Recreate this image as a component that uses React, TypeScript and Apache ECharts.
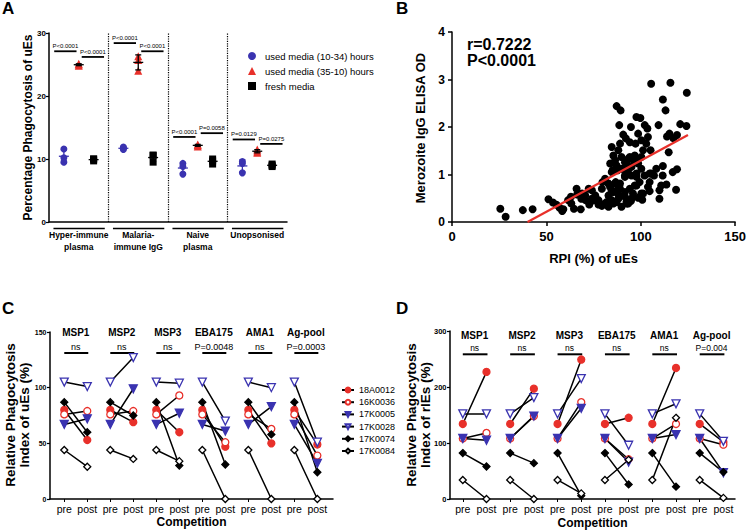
import React, { useEffect, useRef } from 'react';
import * as echarts from 'echarts';

const FONT = 'Liberation Sans, Arial, Helvetica, sans-serif';
const RED = '#e8302a';
const BLUE = '#3a33b0';
const BLACK = '#000';

// ---------- Panel A ----------
const A_GROUPS = ['Hyper-immune\nplasma', 'Malaria-\nimmune IgG', 'Naive\nplasma', 'Unopsonised'];
const A_SERIES = ['used media (10-34) hours', 'used media (35-10) hours', 'fresh media'];
const A_BLUE = [[11.6, 10.2, 9.5], [11.9, 11.7, 11.5], [9.3, 8.8, 7.6], [9.6, 9.3, 7.8]];
const A_RED = [[24.8, 25.0, 25.1], [26.3, 25.7, 24.0], [12.2, 12.3, 12.0], [11.5, 11.0, 11.2]];
const A_BLACK = [[9.7, 10.0, 10.0], [10.6, 10.6, 9.5], [10.0, 9.7, 9.2], [9.2, 9.0, 8.8]];
const A_SIG_LEFT_LABELS = ['P<0.0001', 'P<0.0001', 'P<0.0001', 'P=0.0129'];
const A_SIG_LEFT_Y = [27.1, 28.4, 13.5, 13.1];
const A_SIG_RIGHT_LABELS = ['P<0.0001', 'P<0.0001', 'P=0.0058', 'P=0.0275'];
const A_SIG_RIGHT_Y = [26.2, 27.1, 14.1, 12.4];
const A_YTITLE = 'Percentage Phagocytosis of uEs';

// ---------- Panel B ----------
const B_POINTS: number[][] = [
  [25.6, 0.28], [28.4, 0.11], [37.5, 0.25], [42.7, 0.27], [51.1, 0.48], [53.5, 0.41], [55.5, 0.36], [57, 0.3],
  [58.4, 0.23], [59, 0.27], [61.5, 0.46], [63, 0.53], [63.2, 0.39], [64.6, 0.28], [66, 0.7], [66.3, 0.58],
  [68.2, 0.27], [68.9, 0.6], [68.5, 0.49], [70.7, 0.46], [70.6, 0.56], [72.4, 0.7], [72.7, 0.37], [73.3, 0.42],
  [74.1, 0.67], [74.1, 0.49], [75.9, 0.56], [75.9, 0.46], [77.6, 0.46], [77.6, 0.37], [79.4, 0.7], [79.4, 0.34],
  [79.7, 0.84], [81.1, 0.91], [81.1, 0.39], [82, 0.42], [82.9, 0.81], [82.9, 0.32], [82.9, 0.56], [83.7, 0.74],
  [84.6, 0.67], [84.6, 0.46], [85.5, 0.39], [85.5, 0.63], [86.4, 0.81], [86.7, 0.84], [87.2, 0.42], [88.1, 0.7],
  [88.1, 0.49], [88.4, 0.56], [89, 0.7], [89, 0.81], [89.8, 0.32], [91.6, 0.63], [91.6, 0.53], [92.4, 0.42],
  [92.5, 0.39], [93.3, 0.39], [94.2, 0.7], [94.8, 0.44], [95, 0.49], [95.9, 0.6], [96.8, 0.77], [97.7, 0.77],
  [97.7, 0.95], [98.6, 0.51], [99.4, 0.84], [100.3, 0.6], [100.8, 0.47], [101.2, 0.6], [102, 0.98], [103.8, 0.74],
  [104.7, 0.65], [104.7, 0.84], [105.5, 1.02], [107, 0.98], [108.2, 1.12], [109.9, 0.67], [109.9, 0.49], [110.8, 0.77],
  [111.6, 0.98], [111.7, 1.18], [113.6, 0.79], [116.9, 1.05], [118.7, 0.68], [119.2, 1.11],
  [83.8, 1.23], [84.6, 1.05], [84.6, 1.58], [85.1, 1.09], [85.5, 1.4], [86.4, 1.3], [87.2, 1.19], [87.2, 2.44],
  [87.8, 1.09], [88.1, 1.51], [88.6, 2.04], [89, 1.65], [89.3, 2.35], [89.8, 1.12], [89.8, 1.37], [90.7, 1.12],
  [90.7, 1.84], [91.6, 0.95], [91.6, 0.98], [91.6, 1.26], [92.1, 1.76], [92.4, 1.23], [93.3, 1.09], [93.4, 1.33],
  [94.2, 1.37], [94.2, 1.68], [94.8, 2.0], [95.1, 1.16], [95.1, 0.98], [96, 1.3], [96.8, 1.4], [96.8, 1.37],
  [97.2, 1.65], [97.7, 1.02], [97.7, 2.21], [98.2, 1.25], [98.6, 1.86], [98.6, 1.23], [99.8, 2.19], [100.3, 1.72],
  [100.3, 1.12], [100.3, 1.37], [101.2, 1.51], [102.1, 2.04], [102.9, 1.65], [103.5, 1.97], [103.8, 1.79], [104.7, 1.02],
  [105.2, 1.51], [105.5, 2.91], [109.4, 2.04], [111.7, 2.58], [113.1, 2.35], [113.9, 1.8], [114.8, 1.47], [115.2, 1.86],
  [115.7, 2.93], [117.4, 1.76], [119.2, 1.83], [120.9, 2.06], [124.2, 2.02], [124.4, 2.72],
];
const B_FIT_SLOPE = 0.02153;
const B_FIT_INTERCEPT = -0.861;
const B_FIT_RANGE = [40, 125];
const B_STATS = ['r=0.7222', 'P<0.0001'];
const B_YTITLE = 'Merozoite IgG ELISA OD';

// ---------- Panels C & D ----------
const SUBJECTS = ['18A0012', '16K0036', '17K0005', '17K0028', '17K0074', '17K0084'];
const ANTIGENS = ['MSP1', 'MSP2', 'MSP3', 'EBA175', 'AMA1', 'Ag-pool'];
const PHASES = ['pre', 'post'];
const C_PRE = [80, 76, 67, 105, 87, 44];
const C_POST = [
  [53, 69, 60, 47, 50, 49],
  [79, 79, 93, 51, 63, 39],
  [72, 99, 77, 61, 83, 32],
  [101, 127, 104, 70, 100, 51],
  [60, 75, 30, 31, 58, 24],
  [29, 36, 34, 0, 0, 0],
];
const C_SIG = ['ns', 'ns', 'ns', 'P=0.0048', 'ns', 'P=0.0003'];
const C_YTITLE = 'Relative Phagocytosis\nIndex of uEs (%)';
const D_PRE = [134, 108, 108, 152, 82, 34];
const D_POST = [
  [227, 197, 249, 145, 234, 102],
  [118, 148, 173, 71, 134, 97],
  [105, 148, 162, 66, 115, 47],
  [152, 181, 215, 96, 170, 103],
  [58, 64, 6, 26, 22, 48],
  [0, 0, 10, 70, 145, 2],
];
const D_SIG = ['ns', 'ns', 'ns', 'ns', 'ns', 'P=0.004'];
const D_YTITLE = 'Relative Phagocytosis\nIndex of rIEs (%)';

const TRI_DOWN = 'path://M0,0L10,0L5,9Z';
const SUBJ_STYLE = [
  { symbol: 'circle', fill: RED, border: RED, size: 7 },
  { symbol: 'circle', fill: '#fff', border: RED, size: 7 },
  { symbol: TRI_DOWN, fill: BLUE, border: BLUE, size: 8 },
  { symbol: TRI_DOWN, fill: '#fff', border: BLUE, size: 8 },
  { symbol: 'diamond', fill: BLACK, border: BLACK, size: 7 },
  { symbol: 'diamond', fill: '#fff', border: BLACK, size: 7 },
];

const mean = (a: number[]) => a.reduce((s, v) => s + v, 0) / a.length;
const sd = (a: number[]) => {
  const m = mean(a);
  return Math.sqrt(a.reduce((s, v) => s + (v - m) * (v - m), 0) / (a.length - 1));
};

const axisLineStyle = { onZero: false, lineStyle: { color: BLACK, width: 1.5 } };

function buildPairs(pre: number, post: number[]) {
  const out: any[] = [];
  post.forEach((v, i) => {
    out.push([2 * i, pre]);
    out.push([2 * i + 1, v]);
    out.push([2 * i + 1.5, '-']);
  });
  return out;
}

function pairSeries(xi: number, pre: number[], post: number[][]) {
  return SUBJECTS.map((name, k) => ({
    type: 'line',
    name,
    xAxisIndex: xi,
    yAxisIndex: xi,
    data: buildPairs(pre[k], post[k]),
    symbol: SUBJ_STYLE[k].symbol,
    symbolSize: SUBJ_STYLE[k].size,
    itemStyle: { color: SUBJ_STYLE[k].fill, borderColor: SUBJ_STYLE[k].border, borderWidth: 1.3, opacity: 1 },
    lineStyle: { color: BLACK, width: 1.5 },
    connectNulls: false,
    clip: false,
    z: 3,
  }));
}

function headerSeries(xi: number, ymax: number, sig: string[], offs: number[], sigFont: number) {
  return {
    type: 'custom',
    xAxisIndex: xi,
    yAxisIndex: xi,
    clip: false,
    silent: true,
    data: ANTIGENS.map((_, i) => [2 * i, 2 * i + 1]),
    renderItem: (params: any, api: any) => {
      const i = params.dataIndex;
      const p0 = api.coord([api.value(0), ymax]);
      const p1 = api.coord([api.value(1), ymax]);
      const top = p0[1];
      const cx = (p0[0] + p1[0]) / 2;
      return {
        type: 'group',
        children: [
          {
            type: 'text',
            style: {
              text: ANTIGENS[i], x: cx, y: top + offs[0], align: 'center', verticalAlign: 'middle',
              fontSize: 10, fontWeight: 'bold', fontFamily: FONT, fill: BLACK,
            },
          },
          {
            type: 'text',
            style: {
              text: sig[i], x: cx, y: top + offs[1], align: 'center', verticalAlign: 'middle',
              fontSize: sigFont, fontFamily: FONT, fill: BLACK,
            },
          },
          {
            type: 'line',
            shape: { x1: p0[0], y1: top + offs[2], x2: p1[0] + 1, y2: top + offs[2] },
            style: { stroke: BLACK, lineWidth: 2 },
          },
        ],
      };
    },
  };
}

function pairXAxis(gi: number, min: number, max: number, gap: number) {
  const vals = [0, 1, 2, 3, 4, 5, 6, 7, 8, 9, 10, 11];
  return {
    type: 'value',
    gridIndex: gi,
    min,
    max,
    name: 'Competition',
    nameLocation: 'middle',
    nameGap: gap,
    nameTextStyle: { fontSize: 12, fontWeight: 'bold', fontFamily: FONT, color: BLACK },
    axisLine: axisLineStyle,
    axisTick: { customValues: vals, length: 3, lineStyle: { color: BLACK, width: 1 } },
    axisLabel: {
      customValues: vals,
      formatter: (v: number) => PHASES[Math.round(v) % 2],
      fontSize: 10.5,
      fontFamily: FONT,
      color: BLACK,
      margin: 4,
    },
    splitLine: { show: false },
  };
}

function pairYAxis(gi: number, max: number, interval: number, fs: number) {
  return {
    type: 'value',
    gridIndex: gi,
    min: 0,
    max,
    interval,
    axisLine: { show: true, ...axisLineStyle },
    axisTick: { show: true, length: 3, lineStyle: { color: BLACK, width: 1.2 } },
    axisLabel: { fontSize: fs, fontWeight: 'bold', fontFamily: FONT, color: BLACK, margin: 3.5 },
    splitLine: { show: false },
  };
}

function vTitle(text: string, x: number, y: number, fontSize: number, lineHeight?: number) {
  return {
    type: 'text',
    x,
    y,
    rotation: Math.PI / 2,
    silent: true,
    style: {
      text, x: 0, y: 0, align: 'center', verticalAlign: 'middle',
      fontSize, lineHeight: lineHeight || fontSize * 1.2, fontWeight: 'bold', fontFamily: FONT, fill: BLACK,
    },
  };
}

function buildOption(): any {
  const aScatter = (name: string, vals: number[][], s: number, symbol: string, size: number, color: string) => ({
    type: 'scatter',
    name,
    xAxisIndex: 0,
    yAxisIndex: 0,
    symbol,
    symbolSize: size,
    itemStyle: { color, opacity: 1 },
    data: vals.flatMap((grp, g) => grp.map((v) => [4 * g + 1 + s, v])),
    z: 3,
  });

  const aAll = [A_BLUE, A_RED, A_BLACK];
  const errData: number[][] = [];
  aAll.forEach((arr, s) => arr.forEach((grp, g) => errData.push([4 * g + 1 + s, mean(grp), sd(grp), s])));

  const sigData: number[][] = [];
  A_SIG_LEFT_Y.forEach((y, g) => sigData.push([g, 0, y]));
  A_SIG_RIGHT_Y.forEach((y, g) => sigData.push([g, 1, y]));

  const blueSeries: any = aScatter(A_SERIES[0], A_BLUE, 0, 'circle', 7, BLUE);
  blueSeries.markLine = {
    silent: true,
    symbol: ['none', 'none'],
    label: { show: false },
    lineStyle: { type: 'dotted', color: BLACK, width: 1.2 },
    data: [{ xAxis: 4 }, { xAxis: 8 }, { xAxis: 12 }],
  };

  return {
    animation: false,
    backgroundColor: '#fff',
    textStyle: { fontFamily: FONT },
    grid: [
      { left: 49, top: 33, width: 238, height: 189 },
      { left: 452, top: 32, width: 286, height: 190 },
      { left: 50, top: 332, width: 283, height: 167 },
      { left: 450, top: 331, width: 285, height: 168 },
    ],
    legend: [
      {
        data: A_SERIES,
        orient: 'vertical',
        left: 243,
        top: 46,
        itemWidth: 8,
        itemHeight: 8,
        itemGap: 5,
        textStyle: { fontSize: 9.5, lineHeight: 8, fontFamily: FONT, color: BLACK, padding: [0, 0, 0, 4] },
        selectedMode: false,
      },
      {
        data: SUBJECTS,
        orient: 'vertical',
        left: 336,
        top: 380.5,
        itemWidth: 12,
        itemHeight: 6,
        itemGap: 3.2,
        textStyle: { fontSize: 9, lineHeight: 6, fontFamily: FONT, color: BLACK },
        selectedMode: false,
      },
    ],
    xAxis: [
      {
        type: 'value',
        gridIndex: 0,
        min: 0,
        max: 16,
        axisLine: axisLineStyle,
        axisTick: { show: false },
        splitLine: { show: false },
        axisLabel: {
          customValues: [2, 6, 10, 14],
          formatter: (v: number) => A_GROUPS[Math.round((v - 2) / 4)],
          fontSize: 8.5,
          fontWeight: 'bold',
          fontFamily: FONT,
          color: BLACK,
          lineHeight: 11.7,
          margin: 7,
        },
      },
      {
        type: 'value',
        gridIndex: 1,
        min: 0,
        max: 150,
        interval: 50,
        name: 'RPI (%) of uEs',
        nameLocation: 'middle',
        nameGap: 29.5,
        nameTextStyle: { fontSize: 13, fontWeight: 'bold', fontFamily: FONT, color: BLACK },
        axisLine: axisLineStyle,
        axisTick: { length: 4, lineStyle: { color: BLACK, width: 1.5 } },
        axisLabel: { fontSize: 13, fontWeight: 'bold', fontFamily: FONT, color: BLACK, margin: 8 },
        splitLine: { show: false },
      },
      pairXAxis(2, -0.62, 11.68, 17),
      pairXAxis(3, -0.54, 11.49, 18),
    ],
    yAxis: [
      {
        type: 'value',
        gridIndex: 0,
        min: 0,
        max: 30,
        interval: 10,
        axisLine: { show: true, ...axisLineStyle },
        axisTick: { show: true, length: 3, lineStyle: { color: BLACK, width: 1.2 } },
        axisLabel: { fontSize: 8, fontWeight: 'bold', fontFamily: FONT, color: BLACK, margin: 3 },
        splitLine: { show: false },
      },
      {
        type: 'value',
        gridIndex: 1,
        min: 0,
        max: 4,
        interval: 1,
        axisLine: { show: true, ...axisLineStyle },
        axisTick: { show: true, length: 4, lineStyle: { color: BLACK, width: 1.5 } },
        axisLabel: { fontSize: 12, fontWeight: 'bold', fontFamily: FONT, color: BLACK, margin: 7 },
        splitLine: { show: false },
      },
      pairYAxis(2, 150, 50, 7),
      pairYAxis(3, 300, 100, 7.5),
    ],
    graphic: [
      { type: 'text', left: 2, top: 0, style: { text: 'A', fontSize: 17, fontWeight: 'bold', fontFamily: FONT, fill: BLACK } },
      { type: 'text', left: 396, top: 0, style: { text: 'B', fontSize: 17, fontWeight: 'bold', fontFamily: FONT, fill: BLACK } },
      { type: 'text', left: 2, top: 300, style: { text: 'C', fontSize: 17, fontWeight: 'bold', fontFamily: FONT, fill: BLACK } },
      { type: 'text', left: 396, top: 300, style: { text: 'D', fontSize: 17, fontWeight: 'bold', fontFamily: FONT, fill: BLACK } },
      { type: 'text', left: 467, top: 36, style: { text: B_STATS[0], fontSize: 16, fontWeight: 'bold', fontFamily: FONT, fill: BLACK } },
      { type: 'text', left: 467, top: 52.5, style: { text: B_STATS[1], fontSize: 16, fontWeight: 'bold', fontFamily: FONT, fill: BLACK } },
      vTitle(A_YTITLE, 28, 127.5, 12),
      vTitle(B_YTITLE, 420, 128, 13),
      vTitle(C_YTITLE, 17, 415, 13.5, 14),
      vTitle(D_YTITLE, 418.5, 415, 13.5, 14),
    ],
    series: [
      // Panel A
      blueSeries,
      aScatter(A_SERIES[1], A_RED, 1, 'triangle', 8, RED),
      aScatter(A_SERIES[2], A_BLACK, 2, 'rect', 7, BLACK),
      {
        type: 'custom',
        xAxisIndex: 0,
        yAxisIndex: 0,
        silent: true,
        clip: false,
        z: 4,
        data: errData,
        renderItem: (_p: any, api: any) => {
          const x = api.value(0), m = api.value(1), d = api.value(2), s = api.value(3);
          const c = api.coord([x, m]);
          const t = api.coord([x, m + d]);
          const b = api.coord([x, m - d]);
          const col = s === 0 ? BLUE : BLACK;
          const st = { stroke: col, lineWidth: 1.3 };
          return {
            type: 'group',
            children: [
              { type: 'line', shape: { x1: c[0], y1: t[1], x2: c[0], y2: b[1] }, style: st },
              { type: 'line', shape: { x1: c[0] - 5, y1: c[1], x2: c[0] + 5, y2: c[1] }, style: st },
              { type: 'line', shape: { x1: c[0] - 3, y1: t[1], x2: c[0] + 3, y2: t[1] }, style: st },
              { type: 'line', shape: { x1: c[0] - 3, y1: b[1], x2: c[0] + 3, y2: b[1] }, style: st },
            ],
          };
        },
      },
      {
        type: 'custom',
        xAxisIndex: 0,
        yAxisIndex: 0,
        silent: true,
        clip: false,
        data: sigData,
        renderItem: (_p: any, api: any) => {
          const g = api.value(0), side = api.value(1), y = api.value(2);
          const xc = 4 * g + (side ? 2.95 : 1.1);
          const pl = api.coord([xc - 0.75, y]);
          const pr = api.coord([xc + 0.75, y]);
          const label = side ? A_SIG_RIGHT_LABELS[g] : A_SIG_LEFT_LABELS[g];
          return {
            type: 'group',
            children: [
              { type: 'line', shape: { x1: pl[0], y1: pl[1], x2: pr[0], y2: pr[1] }, style: { stroke: BLACK, lineWidth: 1.8 } },
              {
                type: 'text',
                style: {
                  text: label, x: (pl[0] + pr[0]) / 2, y: pl[1] - 2, align: 'center', verticalAlign: 'bottom',
                  fontSize: 6, fontFamily: FONT, fill: BLACK,
                },
              },
            ],
          };
        },
      },
      {
        type: 'custom',
        xAxisIndex: 0,
        yAxisIndex: 0,
        silent: true,
        clip: false,
        data: A_GROUPS.map((_, g) => [g, 0]),
        renderItem: (_p: any, api: any) => {
          const g = api.value(0);
          const p0 = api.coord([4 * g + 0.3, 0]);
          const p1 = api.coord([4 * g + 3.75, 0]);
          return {
            type: 'line',
            shape: { x1: p0[0], y1: p0[1] + 6.5, x2: p1[0], y2: p1[1] + 6.5 },
            style: { stroke: BLACK, lineWidth: 1.5 },
          };
        },
      },
      // Panel B
      {
        type: 'scatter',
        xAxisIndex: 1,
        yAxisIndex: 1,
        symbolSize: 8,
        itemStyle: { color: BLACK, opacity: 1 },
        data: B_POINTS,
        z: 2,
      },
      {
        type: 'line',
        xAxisIndex: 1,
        yAxisIndex: 1,
        symbol: 'none',
        lineStyle: { color: RED, width: 2.2 },
        data: B_FIT_RANGE.map((x) => [x, B_FIT_SLOPE * x + B_FIT_INTERCEPT]),
        z: 5,
      },
      // Panel C
      ...pairSeries(2, C_PRE, C_POST),
      headerSeries(2, 150, C_SIG, [0, 15, 21], 9),
      // Panel D
      ...pairSeries(3, D_PRE, D_POST),
      headerSeries(3, 300, D_SIG, [4.7, 17.3, 23.3], 8.5),
    ],
  };
}

export default function App() {
  const ref = useRef<HTMLDivElement>(null);
  useEffect(() => {
    const chart = echarts.init(ref.current as HTMLDivElement, null, { renderer: 'svg' });
    chart.setOption(buildOption());
    return () => chart.dispose();
  }, []);
  return (
    <div
      ref={ref}
      style={{ position: 'fixed', left: 0, top: 0, width: 749, height: 531, background: '#fff' }}
    />
  );
}
